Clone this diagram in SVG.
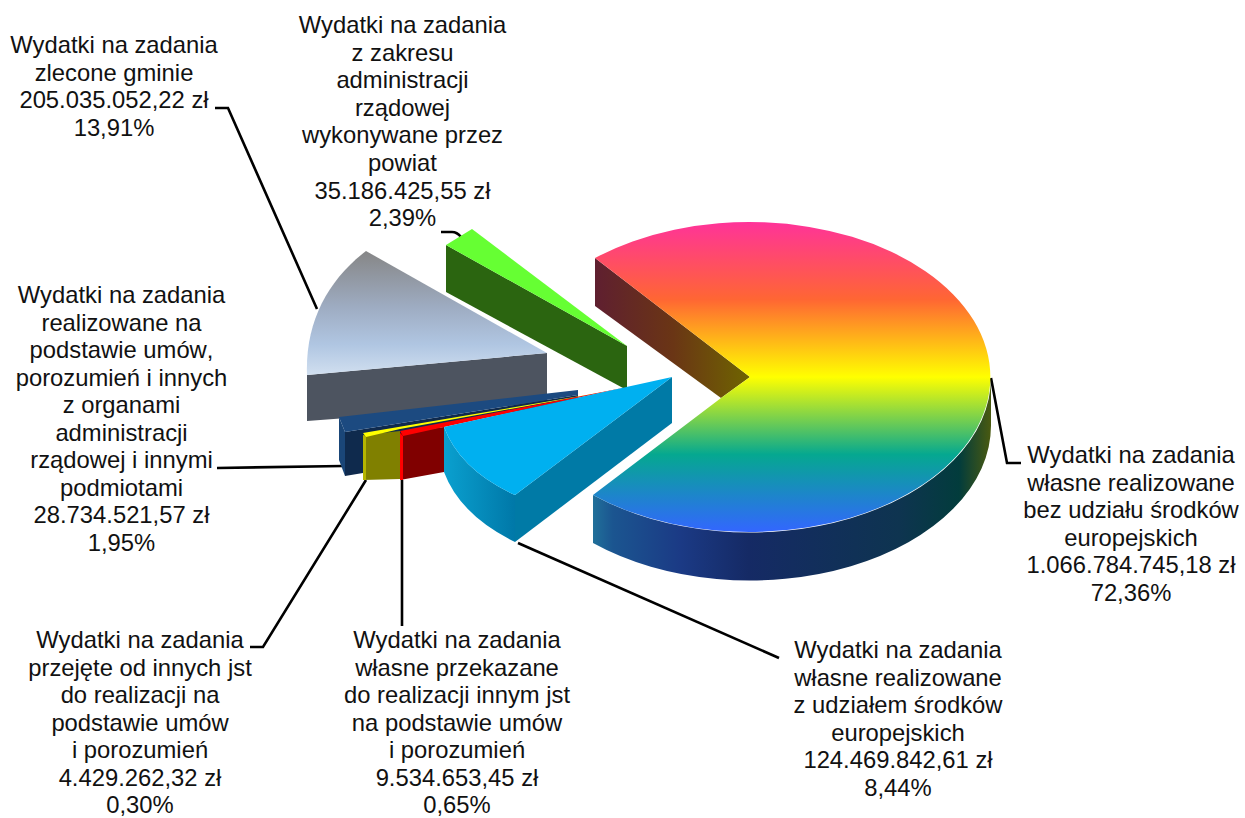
<svg xmlns="http://www.w3.org/2000/svg" width="1245" height="818" viewBox="0 0 1245 818">
<style>
text{font-family:"Liberation Sans",Arial,sans-serif;font-size:23.8px;fill:#111;text-anchor:middle;font-kerning:none}
.lead{fill:none;stroke:#000;stroke-width:2.6}
</style>
<defs>
<linearGradient id="rainTop" gradientUnits="userSpaceOnUse" x1="0" y1="222" x2="0" y2="532">
<stop offset="0" stop-color="#ff3399"/><stop offset=".25" stop-color="#ff6633"/><stop offset=".5" stop-color="#ffff00"/><stop offset=".75" stop-color="#05a890"/><stop offset="1" stop-color="#3366ff"/>
</linearGradient>
<linearGradient id="rainSide" gradientUnits="userSpaceOnUse" x1="593" y1="0" x2="991" y2="0">
<stop offset="0" stop-color="#20709a"/><stop offset=".05" stop-color="#1b5590"/><stop offset=".22" stop-color="#1b3a85"/><stop offset=".39" stop-color="#152a65"/><stop offset=".77" stop-color="#0e3450"/><stop offset=".92" stop-color="#023c3c"/><stop offset="1" stop-color="#4a5a10"/>
</linearGradient>
<linearGradient id="rainWall" gradientUnits="userSpaceOnUse" x1="595" y1="0" x2="750" y2="0">
<stop offset="0" stop-color="#5f1f30"/><stop offset=".5" stop-color="#6a3515"/><stop offset="1" stop-color="#6f6500"/>
</linearGradient>
<linearGradient id="greyTop" gradientUnits="userSpaceOnUse" x1="0" y1="251" x2="0" y2="376">
<stop offset="0" stop-color="#868686"/><stop offset=".45" stop-color="#9eacc2"/><stop offset=".75" stop-color="#b0c6e2"/><stop offset="1" stop-color="#d2e0f0"/>
</linearGradient>
<linearGradient id="cyanSide" gradientUnits="userSpaceOnUse" x1="444" y1="0" x2="515" y2="0">
<stop offset="0" stop-color="#0aa0cf"/><stop offset="1" stop-color="#0078a8"/>
</linearGradient>
</defs>
<g id="connectors">
<path class="lead" d="M215 108H228L317 309"/>
<path class="lead" d="M441 232H452Q457 232 461 237"/>
<path class="lead" d="M217 468L343 466"/>
<path class="lead" d="M250 647H263L366 480"/>
<path class="lead" d="M402 480V626"/>
<path class="lead" d="M518 543L779 658"/>
<path class="lead" d="M991 378L1007 463H1021"/>
</g>
<g id="slice-grey">
<path d="M307 375V421L547 403V353Z" fill="#4d5460"/>
<path d="M547 353L366 251C328 280 305 322 307 375Z" fill="url(#greyTop)"/>
</g>
<g id="slice-green">
<path d="M446 245V292L623 388H627V346Z" fill="#2b6510"/>
<path d="M446 245L472 229L627 346Z" fill="#66ff33"/>
</g>
<g id="slice-navy">
<path d="M339 417V460L345 476V432Z" fill="#1a4678"/>
<path d="M345 432L578 395V400L363 440V473L345 476Z" fill="#0f2a4d"/>
<path d="M339 417L578 390V395L345 432Z" fill="#1c4a80"/>
</g>
<g id="slice-yellow">
<path d="M363 435L400 431V479L363 480Z" fill="#808000"/>
<path d="M363 435V480L366 480V437Z" fill="#b5b500"/>
<path d="M363 433L610 391L400 429L366 437Z" fill="#ffff00"/>
</g>
<g id="slice-red">
<path d="M400 433L444 427V472L400 480Z" fill="#800000"/>
<path d="M400 433V480L403 480V436Z" fill="#ff0000"/>
<path d="M400 431L628 387L444 427L403 436Z" fill="#ff0000"/>
</g>
<g id="slice-cyan">
<path d="M515 495L672 377V423L515 542Z" fill="#007aa6"/>
<path d="M444 427Q460 470 515 495V542Q460 515 444 472Z" fill="url(#cyanSide)"/>
<path d="M444 427L672 377L515 495Q460 470 444 427Z" fill="#00b0f0"/>
</g>
<g id="slice-rainbow">
<path d="M595 258L750 377L721 398L595 306Z" fill="url(#rainWall)"/>
<path d="M593 495A241 155 0 0 0 991 377V425A241 155 0 0 1 593 543Z" fill="url(#rainSide)"/>
<path d="M750 377L595 258A241 155 0 1 1 593 495L721 398Z" fill="url(#rainTop)"/>
</g>
<g id="label-zlecone"><text x="114" y="53">Wydatki na zadania</text><text x="114" y="80.500">zlecone gminie</text><text x="114" y="108">205.035.052,22 zł</text><text x="114" y="135.500">13,91%</text></g>
<g id="label-powiat"><text x="402.500" y="33">Wydatki na zadania</text><text x="402.500" y="60.600">z zakresu</text><text x="402.500" y="88.200">administracji</text><text x="402.500" y="115.800">rządowej</text><text x="402.500" y="143.400">wykonywane przez</text><text x="402.500" y="171">powiat</text><text x="402.500" y="198.600">35.186.425,55 zł</text><text x="402.500" y="226.200">2,39%</text></g>
<g id="label-umowy"><text x="121.500" y="303">Wydatki na zadania</text><text x="121.500" y="330.500">realizowane na</text><text x="121.500" y="358">podstawie umów,</text><text x="121.500" y="385.500">porozumień i innych</text><text x="121.500" y="413">z organami</text><text x="121.500" y="440.500">administracji</text><text x="121.500" y="468">rządowej i innymi</text><text x="121.500" y="495.500">podmiotami</text><text x="121.500" y="523">28.734.521,57 zł</text><text x="121.500" y="550.500">1,95%</text></g>
<g id="label-przejete"><text x="140" y="648">Wydatki na zadania</text><text x="140" y="675.500">przejęte od innych jst</text><text x="140" y="703">do realizacji na</text><text x="140" y="730.500">podstawie umów</text><text x="140" y="758">i porozumień</text><text x="140" y="785.500">4.429.262,32 zł</text><text x="140" y="813">0,30%</text></g>
<g id="label-przekazane"><text x="457" y="648">Wydatki na zadania</text><text x="457" y="675.500">własne przekazane</text><text x="457" y="703">do realizacji innym jst</text><text x="457" y="730.500">na podstawie umów</text><text x="457" y="758">i porozumień</text><text x="457" y="785.500">9.534.653,45 zł</text><text x="457" y="813">0,65%</text></g>
<g id="label-z-udzialem"><text x="898" y="658">Wydatki na zadania</text><text x="898" y="685.500">własne realizowane</text><text x="898" y="713">z udziałem środków</text><text x="898" y="740.500">europejskich</text><text x="898" y="768">124.469.842,61 zł</text><text x="898" y="795.500">8,44%</text></g>
<g id="label-bez-udzialu"><text x="1131" y="463">Wydatki na zadania</text><text x="1131" y="490.500">własne realizowane</text><text x="1131" y="518">bez udziału środków</text><text x="1131" y="545.500">europejskich</text><text x="1131" y="573">1.066.784.745,18 zł</text><text x="1131" y="600.500">72,36%</text></g>
</svg>
